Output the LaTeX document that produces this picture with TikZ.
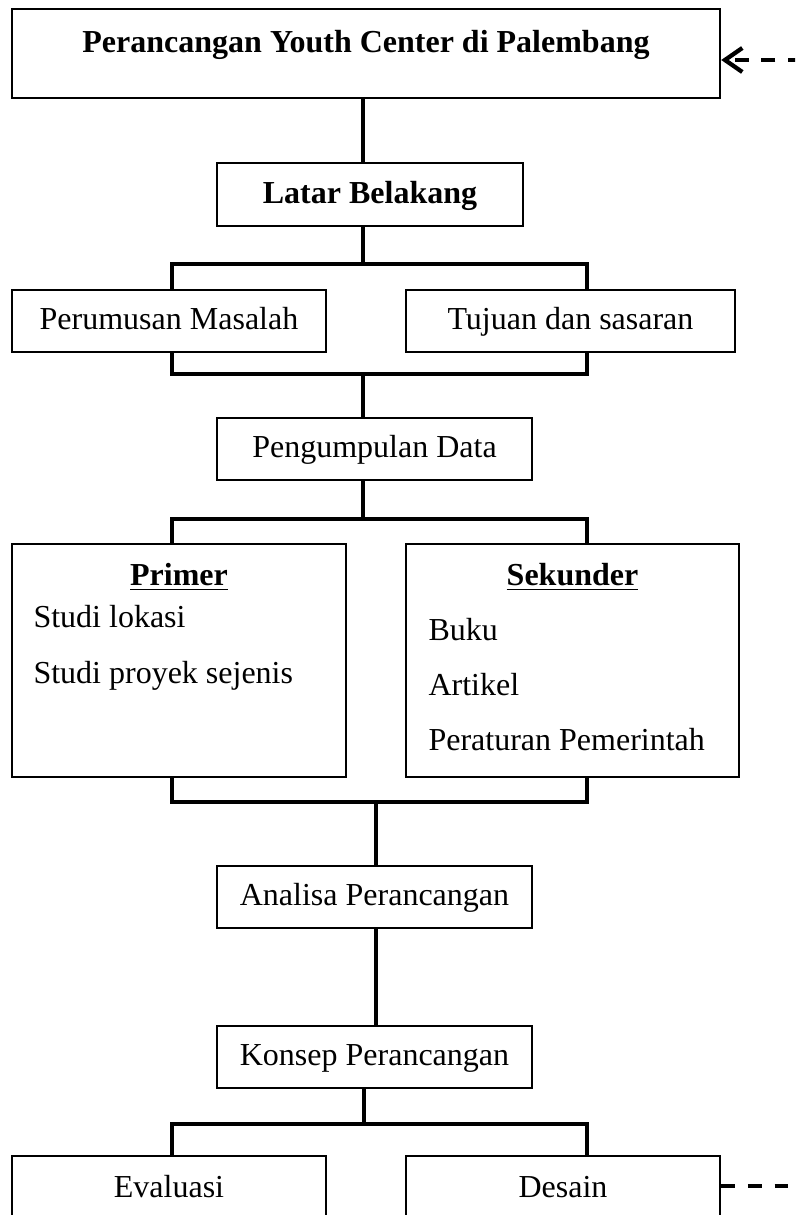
\documentclass[tikz,border=0pt]{standalone}
\usepackage{fontspec}
\setmainfont{Liberation Serif}
\usepackage{tikz}
\usetikzlibrary{arrows.meta,calc}
\newcommand{\px}{0.375pt}

\begin{document}
\begin{tikzpicture}[x=0.375pt, y=-0.375pt]
%kotak : gaya umum semua kotak bagan
\tikzset{huruf/.style={font=\fontsize{12}{14.4}\selectfont},
tebal/.style={font=\fontsize{12}{14.4}\selectfont\bfseries},
kotak/.style={draw, line width=0.9pt, inner sep=0pt, text height=9pt, text depth=2.6pt, huruf},
garis/.style={line width=1.35pt},
putus/.style={line width=1.6pt, dash pattern=on 5.2pt off 4.8pt},
isi/.style={anchor=base west, inner sep=0pt, huruf},
kepala/.style={anchor=base, inner sep=0pt, tebal}}
\useasboundingbox (0,0) rectangle (795,1215);
\clip (0,0) rectangle (795,1215);

\node[kotak, tebal, minimum width=708*\px, minimum height=89*\px, text depth=10.1pt] (judul) at (366,53.5) {Perancangan Youth Center di Palembang};
\node[kotak, tebal, minimum width=306*\px, minimum height=63*\px] (latar) at (370,194.5) {Latar Belakang};
\node[kotak, minimum width=314*\px, minimum height=62*\px] (perumusan) at (169,321) {Perumusan Masalah};
\node[kotak, minimum width=329*\px, minimum height=62*\px] (tujuan) at (570.5,321) {Tujuan dan sasaran};
\node[kotak, minimum width=315*\px, minimum height=62*\px] (kumpul) at (374.5,449) {Pengumpulan Data};
\node[kotak, minimum width=334*\px, minimum height=233*\px] (primer) at (179,660.5) {};
\node[kotak, minimum width=333*\px, minimum height=233*\px] (sekunder) at (572.5,660.5) {};
\node[kotak, minimum width=315*\px, minimum height=62*\px] (analisa) at (374.5,897) {Analisa Perancangan};
\node[kotak, minimum width=315*\px, minimum height=62*\px] (konsep) at (374.5,1057) {Konsep Perancangan};
\node[kotak, minimum width=314*\px, minimum height=66*\px] (evaluasi) at (169,1189) {Evaluasi};
\node[kotak, minimum width=314*\px, minimum height=66*\px] (desain) at (563,1189) {Desain};

%isi kotak data primer dan sekunder
\node[kepala] (tprimer) at (179,585) {\underline{Primer}};
\node[isi] (lokasi) at (33,627) {Studi lokasi};
\node[isi] (sejenis) at (33,683) {Studi proyek sejenis};
\node[kepala] (tsekunder) at (572.5,585) {\underline{Sekunder}};
\node[isi] (buku) at (428,640) {Buku};
\node[isi] (artikel) at (428,695) {Artikel};
\node[isi] (aturan) at (428,750) {Peraturan Pemerintah};

\coordinate (kiri) at (172,0);
\coordinate (kanan) at (587,0);
\coordinate (poros) at (363,0);
\coordinate (cab1) at (363,264);
\coordinate (cab2) at (363,374);
\coordinate (cab3) at (363,519);
\coordinate (cab4) at (376,802);
\coordinate (cab5) at (364,1124);

\draw[garis] (judul.south -| poros) -- (latar.north -| poros);
\draw[garis] (latar.south -| cab1) -- (cab1);
\draw[garis] (perumusan.north -| kiri) |- (cab1) -| (tujuan.north -| kanan);
\draw[garis] (perumusan.south -| kiri) |- (cab2) -| (tujuan.south -| kanan);
\draw[garis] (cab2) -- (kumpul.north -| cab2);
\draw[garis] (kumpul.south -| cab3) -- (cab3);
\draw[garis] (primer.north -| kiri) |- (cab3) -| (sekunder.north -| kanan);
\draw[garis] (primer.south -| kiri) |- (cab4) -| (sekunder.south -| kanan);
\draw[garis] (cab4) -- (analisa.north -| cab4);
\draw[garis] (analisa.south -| cab4) -- (konsep.north -| cab4);
\draw[garis] (konsep.south -| cab5) -- (cab5);
\draw[garis] (evaluasi.north -| kiri) |- (cab5) -| (desain.north -| kanan);

%garis putus umpan balik
\coordinate (umpan1) at (802,60);
\coordinate (umpan2) at (802,1186);
\draw[putus, -{Straight Barb[length=6.5pt, width=9pt]}] (umpan1) -- (umpan1 -| judul.east);
\draw[putus] (desain.east |- umpan2) -- (umpan2);
\end{tikzpicture}
\end{document}
